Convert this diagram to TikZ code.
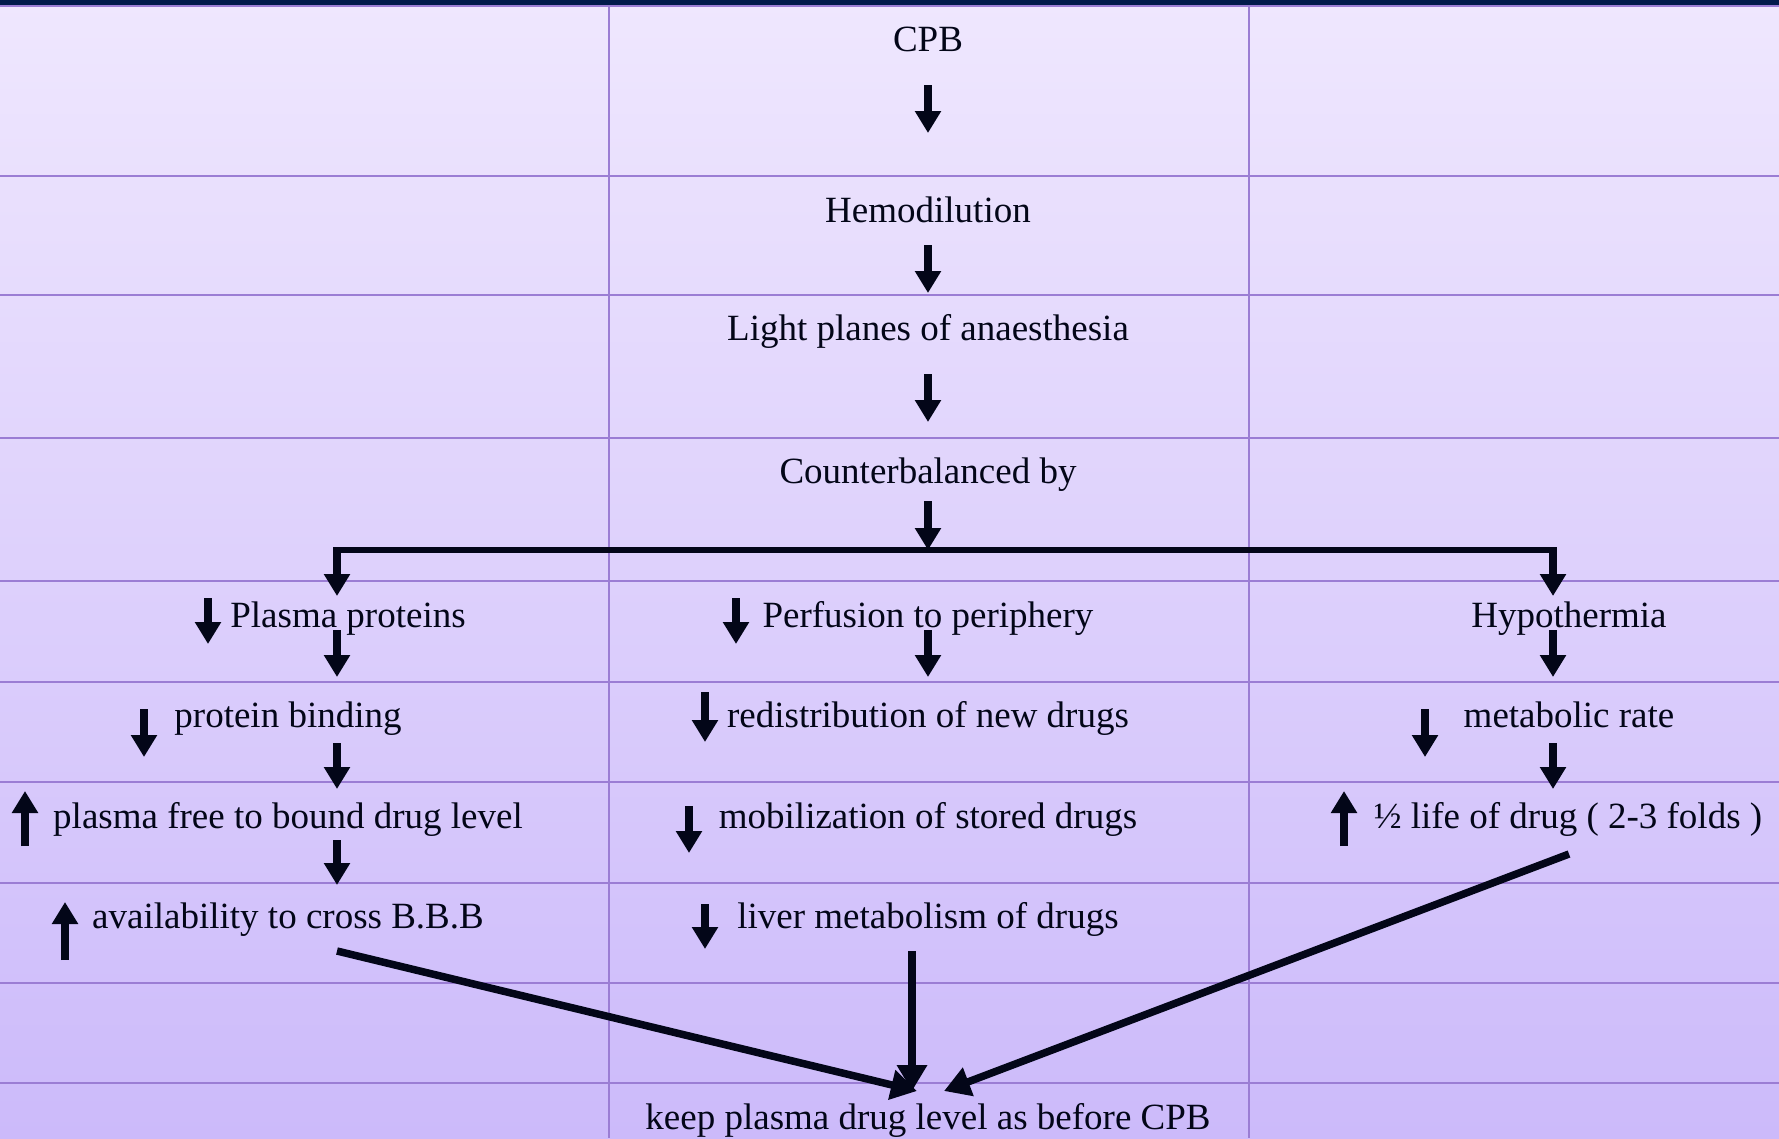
\documentclass[tikz,border=0pt]{standalone}
\usepackage{fontspec}
\setmainfont{Liberation Serif}
\usetikzlibrary{arrows.meta}
\definecolor{bgtop}{RGB}{239,231,254}
\definecolor{bgbot}{RGB}{204,186,250}
\definecolor{gridc}{RGB}{155,125,212}
\definecolor{navy}{RGB}{1,26,75}
\definecolor{ink}{RGB}{3,6,24}
\begin{document}
\begin{tikzpicture}[x = 1pt, y = -1pt,
	txt/.style = {inner sep = 0pt, anchor = base, text = ink, font = \fontsize{37}{44}\selectfont},
	flow/.style = {ink, line width = 8pt, -{Triangle[width = 25pt, length = 22pt]}},
	link/.style = {ink, line width = 7.5pt, -{Triangle[width = 29pt, length = 26pt]}}]
	\useasboundingbox (0, 0) rectangle (1779, 1138);
	\shade[top color = bgtop, bottom color = bgbot] (0, 0) rectangle (1779, 1138);
	% table lines
	\foreach \y in {6, 176, 295, 438, 581, 682, 782, 883, 983, 1083}
	{
		\draw[gridc, line width = 2pt] (0, \y) -- (1779, \y);
	}
	\foreach \x in {609, 1249}
	{
		\draw[gridc, line width = 2pt] (\x, 6) -- (\x, 1138);
	}
	\fill[navy] (0, 0) rectangle (1779, 5);
	% middle column
	\node[txt] (cpb) at (928, 51) {CPB};
	\node[txt] (hemo) at (928, 222) {Hemodilution};
	\node[txt] (light) at (928, 340) {Light planes of anaesthesia};
	\node[txt] (counter) at (928, 483) {Counterbalanced by};
	\node[txt] (perf) at (928, 627) {Perfusion to periphery};
	\node[txt] (redis) at (928, 727) {redistribution of new drugs};
	\node[txt] (mobil) at (928, 828) {mobilization of stored drugs};
	\node[txt] (liver) at (928, 928) {liver metabolism of drugs};
	% left column
	\node[txt] (pp) at (348, 627) {Plasma proteins};
	\node[txt] (pb) at (288, 727) {protein binding};
	\node[txt] (pfree) at (288, 828) {plasma free to bound drug level};
	\node[txt] (avail) at (288, 928) {availability to cross B.B.B};
	% right column
	\node[txt] (hypo) at (1569, 627) {Hypothermia};
	\node[txt] (metab) at (1569, 727) {metabolic rate};
	\node[txt] (half) at (1568, 828) {½ life of drug ( 2-3 folds )};
	\node[txt] (keep) at (928, 1129) {keep plasma drug level as before CPB};
	% chain
	\draw[flow] (cpb.base) ++(0, 34) -- ++(0, 48);
	\draw[flow] (hemo.base) ++(0, 23) -- ++(0, 48);
	\draw[flow] (light.base) ++(0, 34) -- ++(0, 48);
	\draw[flow] (counter.base) ++(0, 18) -- ++(0, 49);
	\coordinate (bl) at (337, 550);
	\coordinate (br) at (1553, 550);
	\draw[ink, line width = 6.5pt] ([xshift = -4pt]bl) -- ([xshift = 4pt]br);
	\draw[flow] (bl) ++(0, -3) -- ++(0, 49);
	\draw[flow] (br) ++(0, -3) -- ++(0, 49);
	\draw[flow] (pp.base) ++(-11, 3) -- ++(0, 47);
	\draw[flow] (perf.base) ++(0, 3) -- ++(0, 47);
	\draw[flow] (hypo.base) ++(-16, 3) -- ++(0, 47);
	\draw[flow] (pb.base) ++(49, 16) -- ++(0, 46);
	\draw[flow] (metab.base) ++(-16, 16) -- ++(0, 46);
	\draw[flow] (pfree.base) ++(49, 12) -- ++(0, 45);
	% up / down marks
	\foreach \x/\ya/\yb in {208/598/644, 736/598/644, 144/709/757, 705/692/742, 1425/709/757,
		25/846/791, 689/806/853, 1344/846/791, 65/960/902, 705/904/949}
	{
		\draw[flow] (\x, \ya) -- (\x, \yb);
	}
	% to the result
	\draw[link] ([xshift = 49pt, yshift = -23pt]avail.base) -- ([xshift = -11pt, yshift = 38pt]keep.base);
	\draw[link] ([xshift = -16pt, yshift = -23pt]liver.base) -- ([xshift = -16pt, yshift = 38pt]keep.base);
	\draw[link] ([xshift = 1pt, yshift = -26pt]half.base) -- ([xshift = 16pt, yshift = 38pt]keep.base);
\end{tikzpicture}
\end{document}
